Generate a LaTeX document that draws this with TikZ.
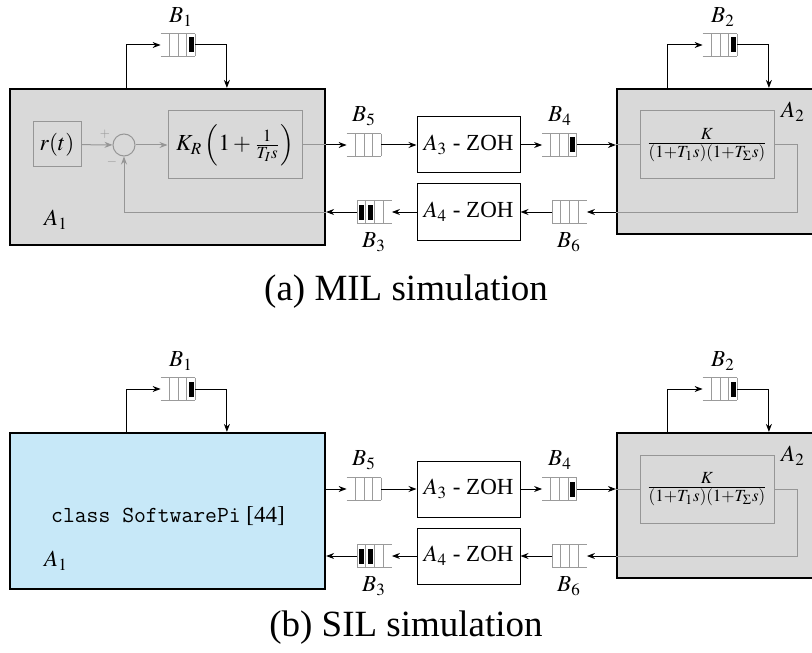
\documentclass[tikz,border=0pt]{standalone}
\usepackage{mathptmx}
\usepackage[no-math]{fontspec}
\setmainfont{Liberation Serif}
\usetikzlibrary{arrows.meta,calc}
\definecolor{boxgray}{RGB}{217,217,217}
\definecolor{lngray}{RGB}{150,150,150}
\definecolor{qgray}{RGB}{155,155,155}
\definecolor{softblue}{RGB}{199,232,248}
\tikzset{
  arr/.style={-{Stealth[length=4pt,width=3pt]}, line width=0.5pt, black},
  garr/.style={-{Stealth[length=4pt,width=3pt]}, line width=0.5pt, lngray},
  gline/.style={line width=0.5pt, lngray},
  bigbox/.style={draw=black, line width=1.1pt, inner sep=0pt},
  inbox/.style={draw=lngray, line width=0.5pt, inner sep=0pt},
  zohbox/.style={draw=black, line width=0.5pt, minimum width=51.5pt, minimum height=28pt, inner sep=0pt},
  qbox/.style={minimum width=17pt, minimum height=11pt, inner sep=0pt},
  qline/.style={qgray, line width=0.5pt},
  lbl/.style={inner sep=0pt},
  capt/.style={font=\fontsize{18.5}{21}\selectfont, inner sep=0pt},
}
% queue with entry on the left, exit on the right
\newcommand{\queueR}[2]{%
  \draw[qline] (#1.north west) -- (#1.north east) (#1.south west) -- (#1.south east);
  \foreach \f in {0.25,0.5,0.75,1}
    \draw[qline] ($(#1.north west)!\f!(#1.north east)$) -- ($(#1.south west)!\f!(#1.south east)$);
  \foreach \c in {#2}
    \fill[black] ($(#1.west)!\c!(#1.east)$) ++(-2.5,-7.5) rectangle ++(5,15);
}
% queue with entry on the right, exit on the left
\newcommand{\queueL}[2]{%
  \draw[qline] (#1.north west) -- (#1.north east) (#1.south west) -- (#1.south east);
  \foreach \f in {0,0.25,0.5,0.75}
    \draw[qline] ($(#1.north west)!\f!(#1.north east)$) -- ($(#1.south west)!\f!(#1.south east)$);
  \foreach \c in {#2}
    \fill[black] ($(#1.west)!\c!(#1.east)$) ++(-2.5,-7.5) rectangle ++(5,15);
}
\newcommand{\queueRempty}[1]{%
  \draw[qline] (#1.north west) -- (#1.north east) (#1.south west) -- (#1.south east);
  \foreach \f in {0.25,0.5,0.75,1}
    \draw[qline] ($(#1.north west)!\f!(#1.north east)$) -- ($(#1.south west)!\f!(#1.south east)$);
}
\newcommand{\queueLempty}[1]{%
  \draw[qline] (#1.north west) -- (#1.north east) (#1.south west) -- (#1.south east);
  \foreach \f in {0,0.25,0.5,0.75}
    \draw[qline] ($(#1.north west)!\f!(#1.north east)$) -- ($(#1.south west)!\f!(#1.south east)$);
}
\begin{document}
\begin{tikzpicture}[x=0.5pt, y=-0.5pt, font=\fontsize{11.5}{13}\selectfont]
\useasboundingbox (0,0) rectangle (812,652);

% ================= (a) MIL =================
\node[bigbox, fill=boxgray, minimum width=157.5pt, minimum height=78pt] (A1) at (167.5,167) {};
\node[bigbox, fill=boxgray, minimum width=99.5pt, minimum height=72.5pt] (A2) at (716.5,161.5) {};

\node[inbox, minimum width=24pt, minimum height=22.5pt] (rt) at (57,144.5) {$r(t)$};
\node[draw=lngray, line width=0.5pt, circle, minimum size=11pt, inner sep=0pt] (sum) at (124,145) {};
\node[inbox, minimum width=67pt, minimum height=34pt] (KR) at (235,145) {$K_R\left(1+\frac{1}{T_I s}\right)$};
\node[inbox, minimum width=67pt, minimum height=34pt] (TF) at (707,145) {$\frac{K}{(1+T_1 s)(1+T_\Sigma s)}$};
\node[lngray, font=\fontsize{6.5}{7}\selectfont, inner sep=0pt] (plus) at (105,134) {$+$};
\node[lngray, font=\fontsize{6.5}{7}\selectfont, inner sep=0pt] (minus) at (112,162) {$-$};
\node[lbl] (A1l) at (56,220) {$A_1$};
\node[lbl] (A2l) at (793,112) {$A_2$};

\node[zohbox] (A3) at (468.5,145) {$A_3$ - ZOH};
\node[zohbox] (A4) at (468.5,212) {$A_4$ - ZOH};

\node[qbox] (B5) at (364,145) {};
\node[qbox] (B4) at (559.5,145) {};
\node[qbox] (B3) at (374.5,212) {};
\node[qbox] (B6) at (569.5,212) {};
\node[qbox] (B1) at (178,45) {};
\node[qbox] (B2) at (720,45) {};
\queueRempty{B5}
\queueR{B4}{0.875}
\queueL{B3}{0.125,0.375}
\queueLempty{B6}
\queueR{B1}{0.875}
\queueR{B2}{0.875}
\node[lbl] (B1l) at (181,17) {$B_1$};
\node[lbl] (B2l) at (723,17) {$B_2$};
\node[lbl] (B5l) at (364,116) {$B_5$};
\node[lbl] (B4l) at (560,116) {$B_4$};
\node[lbl] (B3l) at (374,242) {$B_3$};
\node[lbl] (B6l) at (569,242) {$B_6$};

% inner loop of A1
\draw[garr] (rt) -- (sum);
\draw[garr] (sum) -- (KR);
\draw[gline] (KR.east) -- (A1.east |- KR.east);
\draw[garr] (A1.east |- B3) -| (sum.south);
% inner loop of A2
\draw[gline] (A2.west |- TF) -- (TF.west);
\draw[gline] (TF.east) -- ++(23,0) |- (A2.west |- B6);
% links
\draw[arr] (A1.east |- B5) -- (B5.west);
\draw[arr] (B5) -- (A3);
\draw[arr] (A3) -- (B4);
\draw[arr] (B4.east) -- (A2.west |- B4);
\draw[arr] (A2.west |- B6) -- (B6.east);
\draw[arr] (B6) -- (A4);
\draw[arr] (A4) -- (B3);
\draw[arr] (B3.west) -- (A1.east |- B3);
\draw[arr] ($(A1.north west)+(118,0)$) |- (B1.west);
\draw[arr] (B1.east) -| ($(A1.north west)+(218,0)$);
\draw[arr] ($(A2.north west)+(52,0)$) |- (B2.west);
\draw[arr] (B2.east) -| ($(A2.north west)+(153,0)$);

\node[capt] (capa) at (406,292) {(a) MIL simulation};

% ================= (b) SIL =================
\begin{scope}[yshift=-172pt]
\node[bigbox, fill=softblue, minimum width=157.5pt, minimum height=78pt] (A1b) at (167.5,167) {};
\node[bigbox, fill=boxgray, minimum width=99.5pt, minimum height=72.5pt] (A2b) at (716.5,161.5) {};
\node[lbl] (code) at (168,172) {\texttt{class SoftwarePi} [44]};
\node[lbl] (A1bl) at (56,217) {$A_1$};
\node[lbl] (A2bl) at (793,112) {$A_2$};
\node[inbox, minimum width=67pt, minimum height=34pt] (TFb) at (707,145) {$\frac{K}{(1+T_1 s)(1+T_\Sigma s)}$};

\node[zohbox] (A3b) at (468.5,145) {$A_3$ - ZOH};
\node[zohbox] (A4b) at (468.5,212) {$A_4$ - ZOH};

\node[qbox] (B5b) at (364,145) {};
\node[qbox] (B4b) at (559.5,145) {};
\node[qbox] (B3b) at (374.5,212) {};
\node[qbox] (B6b) at (569.5,212) {};
\node[qbox] (B1b) at (178,45) {};
\node[qbox] (B2b) at (720,45) {};
\queueRempty{B5b}
\queueR{B4b}{0.875}
\queueL{B3b}{0.125,0.375}
\queueLempty{B6b}
\queueR{B1b}{0.875}
\queueR{B2b}{0.875}
\node[lbl] (B1bl) at (181,17) {$B_1$};
\node[lbl] (B2bl) at (723,17) {$B_2$};
\node[lbl] (B5bl) at (364,116) {$B_5$};
\node[lbl] (B4bl) at (560,116) {$B_4$};
\node[lbl] (B3bl) at (374,242) {$B_3$};
\node[lbl] (B6bl) at (569,242) {$B_6$};

\draw[gline] (A2b.west |- TFb) -- (TFb.west);
\draw[gline] (TFb.east) -- ++(23,0) |- (A2b.west |- B6b);
\draw[arr] (A1b.east |- B5b) -- (B5b.west);
\draw[arr] (B5b) -- (A3b);
\draw[arr] (A3b) -- (B4b);
\draw[arr] (B4b.east) -- (A2b.west |- B4b);
\draw[arr] (A2b.west |- B6b) -- (B6b.east);
\draw[arr] (B6b) -- (A4b);
\draw[arr] (A4b) -- (B3b);
\draw[arr] (B3b.west) -- (A1b.east |- B3b);
\draw[arr] ($(A1b.north west)+(118,0)$) |- (B1b.west);
\draw[arr] (B1b.east) -| ($(A1b.north west)+(218,0)$);
\draw[arr] ($(A2b.north west)+(52,0)$) |- (B2b.west);
\draw[arr] (B2b.east) -| ($(A2b.north west)+(153,0)$);
\end{scope}
\node[capt] (capb) at (406,628) {(b) SIL simulation};
\end{tikzpicture}
\end{document}
